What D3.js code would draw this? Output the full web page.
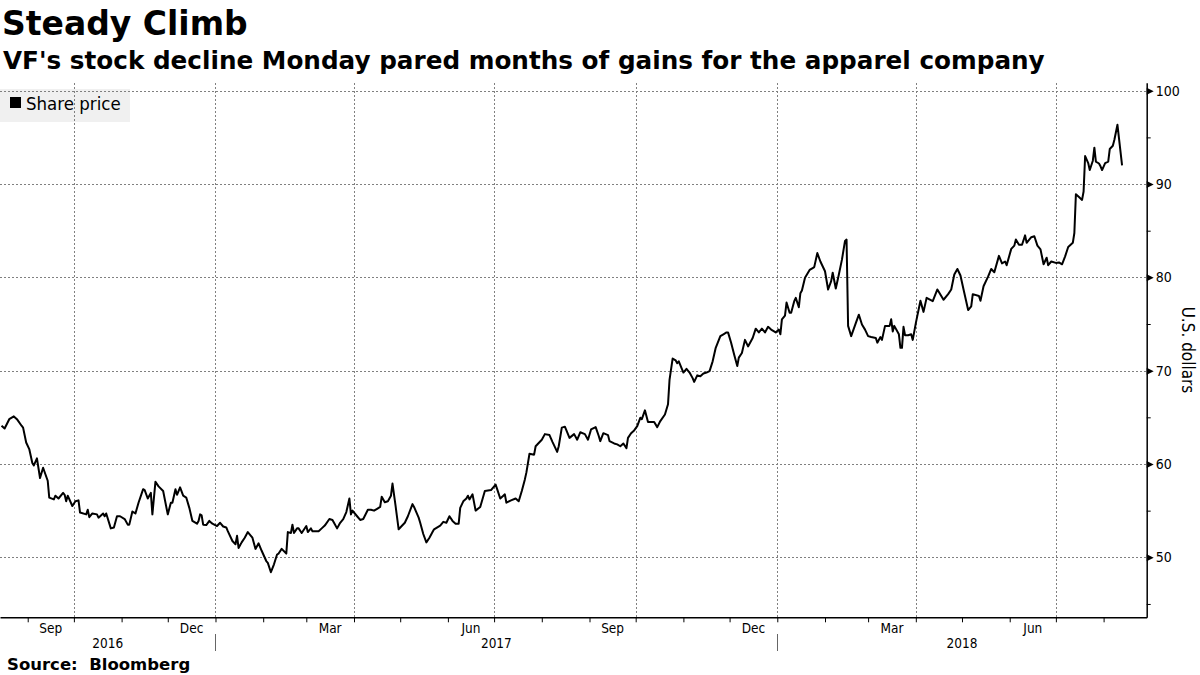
<!DOCTYPE html>
<html><head><meta charset="utf-8">
<script src="https://cdn.jsdelivr.net/npm/d3@7"></script>
<style>body{margin:0;background:#fff;} svg{display:block;}</style>
</head><body>
<svg id="chart" width="1200" height="675"></svg>
<script>
const title = "Steady Climb";
const subtitle = "VF's stock decline Monday pared months of gains for the apparel company";
const sourceText = "Source:  Bloomberg";
const seriesName = "Share price";
const yAxisTitle = "U.S. dollars";
const xDomain = ["2016-08-14", "2018-08-29"];
const yDomain = [43.57, 100.86];
const yTicks = [50, 60, 70, 80, 90, 100];
const yMinorTicks = [45, 55, 65, 75, 85, 95];
const labelMonths = ["Sep", "Dec", "Mar", "Jun"];

const dates = [
"2016-08-15","2016-08-17","2016-08-20","2016-08-23","2016-08-25","2016-08-28","2016-08-29","2016-08-31",
"2016-09-02","2016-09-04","2016-09-05","2016-09-07","2016-09-09","2016-09-11","2016-09-14","2016-09-15",
"2016-09-18","2016-09-19","2016-09-21","2016-09-24","2016-09-25","2016-09-26","2016-09-27","2016-09-30",
"2016-10-02","2016-10-04","2016-10-05","2016-10-09","2016-10-10","2016-10-11","2016-10-13","2016-10-16",
"2016-10-17","2016-10-20","2016-10-21","2016-10-22","2016-10-25","2016-10-27","2016-10-29","2016-10-31",
"2016-11-03","2016-11-05","2016-11-06","2016-11-08","2016-11-10","2016-11-12","2016-11-15","2016-11-16",
"2016-11-18","2016-11-20","2016-11-21","2016-11-23","2016-11-25","2016-11-28",
"2016-12-01","2016-12-03","2016-12-04","2016-12-06","2016-12-07","2016-12-09","2016-12-11","2016-12-13",
"2016-12-15","2016-12-17","2016-12-20","2016-12-21","2016-12-22","2016-12-23","2016-12-24","2016-12-26",
"2016-12-28","2016-12-30",
"2017-01-02","2017-01-04","2017-01-06","2017-01-08","2017-01-09","2017-01-12","2017-01-14","2017-01-15",
"2017-01-16","2017-01-18","2017-01-20","2017-01-22","2017-01-24","2017-01-25","2017-01-27","2017-01-29",
"2017-01-31",
"2017-02-03","2017-02-04","2017-02-06","2017-02-08","2017-02-10","2017-02-11","2017-02-13","2017-02-16",
"2017-02-17","2017-02-19","2017-02-20","2017-02-21","2017-02-23","2017-02-24","2017-02-26",
"2017-03-01","2017-03-02","2017-03-04","2017-03-05","2017-03-09","2017-03-11","2017-03-13","2017-03-16",
"2017-03-18","2017-03-19","2017-03-21","2017-03-23","2017-03-25","2017-03-27","2017-03-29","2017-03-30",
"2017-03-31",
"2017-04-03","2017-04-05","2017-04-07","2017-04-10","2017-04-12","2017-04-14","2017-04-16","2017-04-18",
"2017-04-19","2017-04-21","2017-04-23","2017-04-25","2017-04-26","2017-04-28","2017-04-30",
"2017-05-02","2017-05-04","2017-05-06","2017-05-09","2017-05-10","2017-05-13","2017-05-14","2017-05-16",
"2017-05-18","2017-05-20","2017-05-22","2017-05-23","2017-05-27","2017-05-29","2017-05-31",
"2017-06-02","2017-06-04","2017-06-06","2017-06-08","2017-06-09","2017-06-11","2017-06-13","2017-06-14",
"2017-06-15","2017-06-17","2017-06-19","2017-06-22","2017-06-25","2017-06-29",
"2017-07-02","2017-07-03","2017-07-05","2017-07-07","2017-07-08","2017-07-09","2017-07-12","2017-07-15",
"2017-07-17","2017-07-19","2017-07-21","2017-07-22","2017-07-24","2017-07-27","2017-07-28",
"2017-08-01","2017-08-03","2017-08-06","2017-08-08","2017-08-11","2017-08-12","2017-08-14","2017-08-16",
"2017-08-19","2017-08-22","2017-08-24","2017-08-26","2017-08-29","2017-08-31",
"2017-09-02","2017-09-05","2017-09-07","2017-09-08","2017-09-10","2017-09-13","2017-09-14","2017-09-17",
"2017-09-19","2017-09-21","2017-09-23","2017-09-25","2017-09-26","2017-09-28","2017-09-30",
"2017-10-02","2017-10-04","2017-10-05","2017-10-07","2017-10-09","2017-10-11","2017-10-13","2017-10-15",
"2017-10-17","2017-10-20","2017-10-22","2017-10-23","2017-10-25","2017-10-27","2017-10-28","2017-10-29",
"2017-11-01","2017-11-03","2017-11-05","2017-11-07","2017-11-08","2017-11-10","2017-11-12","2017-11-14",
"2017-11-16","2017-11-18","2017-11-20","2017-11-22","2017-11-25","2017-11-27","2017-11-29","2017-11-30",
"2017-12-02","2017-12-04","2017-12-06","2017-12-07","2017-12-09","2017-12-11","2017-12-13","2017-12-16",
"2017-12-18","2017-12-20","2017-12-22","2017-12-24","2017-12-26","2017-12-28","2017-12-31",
"2018-01-02","2018-01-03","2018-01-04","2018-01-06","2018-01-07","2018-01-09","2018-01-10","2018-01-12",
"2018-01-13","2018-01-15","2018-01-16","2018-01-17","2018-01-19","2018-01-22","2018-01-24","2018-01-25",
"2018-01-27","2018-01-29",
"2018-02-01","2018-02-03","2018-02-05","2018-02-06","2018-02-08","2018-02-10","2018-02-12","2018-02-14",
"2018-02-15","2018-02-16","2018-02-18","2018-02-21","2018-02-23","2018-02-25","2018-02-27",
"2018-03-01","2018-03-03","2018-03-06","2018-03-07","2018-03-09","2018-03-10","2018-03-12","2018-03-15",
"2018-03-16","2018-03-17","2018-03-18","2018-03-21","2018-03-22","2018-03-23","2018-03-24","2018-03-25",
"2018-03-27","2018-03-29","2018-03-30",
"2018-04-01","2018-04-04","2018-04-06","2018-04-08","2018-04-12","2018-04-15","2018-04-19","2018-04-22",
"2018-04-24","2018-04-26","2018-04-28","2018-04-30",
"2018-05-02","2018-05-05","2018-05-07","2018-05-08","2018-05-12","2018-05-13","2018-05-15","2018-05-18",
"2018-05-20","2018-05-22","2018-05-25","2018-05-27","2018-05-29","2018-05-30",
"2018-06-02","2018-06-04","2018-06-05","2018-06-07","2018-06-09","2018-06-11","2018-06-12","2018-06-15",
"2018-06-17","2018-06-19","2018-06-21","2018-06-23","2018-06-25","2018-06-26","2018-06-28",
"2018-07-01","2018-07-03","2018-07-05","2018-07-07","2018-07-09","2018-07-12","2018-07-13","2018-07-14",
"2018-07-16","2018-07-18","2018-07-19","2018-07-20","2018-07-22","2018-07-23","2018-07-25","2018-07-26",
"2018-07-27","2018-07-29","2018-07-30","2018-07-31",
"2018-08-02","2018-08-04","2018-08-05","2018-08-07","2018-08-08","2018-08-10","2018-08-13"
];

const prices = [
64.1,63.8,64.8,65.1,64.8,64.1,63.9,62.3,
61.6,60.1,59.85,60.6,58.5,59.6,58.2,56.4,
56.2,56.6,56.3,56.9,56.7,56.0,56.6,55.5,
56.0,56.1,54.8,54.6,55.1,54.3,54.7,54.6,
54.25,54.7,54.4,54.7,53.1,53.2,54.4,54.4,
54.1,53.5,53.5,54.9,54.7,55.85,57.3,57.2,
56.3,56.9,54.6,58.1,57.6,57.1,
54.6,55.85,55.85,57.3,56.7,57.5,56.6,56.4,
55.3,53.9,53.6,53.9,54.6,54.5,53.5,53.45,
53.9,53.6,
53.35,53.7,53.3,53.2,52.8,51.75,51.4,52.3,
51.0,51.6,52.1,52.7,52.3,52.1,50.9,51.5,
50.7,
49.6,49.4,48.4,49.25,50.3,50.4,50.9,50.4,
52.7,52.6,53.5,52.6,53.1,53.1,52.6,
53.35,52.7,53.1,52.8,52.8,53.1,53.4,54.1,
54.0,53.7,53.1,53.7,54.1,54.85,56.3,54.6,
55.0,
54.4,54.0,54.1,55.1,55.1,55.0,55.2,55.4,
56.5,55.9,56.0,56.6,57.9,55.5,53.0,
53.35,53.7,54.4,55.7,55.4,54.25,53.7,52.5,
51.6,52.1,52.7,53.0,53.4,53.8,53.7,
54.4,53.9,53.6,53.6,55.3,56.0,56.3,56.6,
56.2,56.75,55.0,55.4,57.1,57.2,
57.8,57.3,56.3,56.6,56.75,55.85,56.1,56.3,
56.0,57.1,58.35,59.1,61.1,61.0,61.9,
62.6,63.2,63.1,62.35,61.3,61.9,63.9,64.0,
62.8,63.2,62.6,63.4,63.2,62.6,
63.7,63.95,63.0,62.45,63.3,63.1,62.45,62.2,
62.1,61.9,62.2,61.7,62.8,63.3,63.6,
64.05,64.95,64.8,65.75,64.5,64.5,64.5,63.95,
64.6,65.3,66.4,69.05,71.3,71.1,70.8,71.0,
69.8,70.2,69.8,69.2,68.8,69.5,69.4,69.7,
69.8,69.95,71.0,72.45,73.7,73.9,74.1,74.1,
73.0,71.7,70.5,71.4,71.9,73.3,72.6,73.5,
74.5,74.1,74.5,74.1,74.7,74.4,74.1,
74.4,73.9,75.5,75.9,77.3,76.2,76.2,77.45,
77.8,76.8,78.3,78.6,79.95,80.8,81.0,81.1,
82.6,81.7,
80.65,78.7,79.6,80.5,78.8,80.3,81.9,83.9,
84.05,74.8,73.7,75.1,76.0,74.95,74.4,
73.7,73.6,73.5,73.0,73.6,73.3,74.8,74.8,
75.5,74.2,74.8,73.9,72.45,72.45,74.7,73.8,
73.8,73.9,73.3,
75.1,77.5,76.3,77.8,77.45,78.7,77.6,78.2,
78.7,80.3,80.9,80.2,
78.7,76.5,76.9,78.2,78.0,77.5,79.05,80.1,
80.9,80.55,82.3,81.5,81.7,81.3,
83.05,83.4,84.05,83.5,83.5,84.5,83.7,84.3,
84.4,83.4,83.0,81.4,82.1,81.3,81.7,
81.55,81.6,81.4,82.25,83.25,83.7,84.75,88.9,
88.6,88.3,89.2,93.0,92.25,91.5,92.5,93.9,
92.4,92.2,91.9,91.5,
92.25,92.4,93.75,94.1,94.75,96.35,92.0
];

const parse = d3.utcParse("%Y-%m-%d");
const data = dates.map((d, i) => ({ date: parse(d), value: prices[i] }));

const svg = d3.select("#chart");
const plot = { left: 0, right: 1146.7, top: 82.7, bottom: 617.3 };

const x = d3.scaleUtc().domain(xDomain.map(parse)).range([plot.left, plot.right]);
const y = d3.scaleLinear().domain(yDomain).range([plot.bottom, plot.top]);

const condensed = "'DejaVu Sans Condensed', 'DejaVu Sans', sans-serif";
const boldFont = "'DejaVu Sans', sans-serif";

// Title & subtitle
svg.append("text").attr("x", 2).attr("y", 35)
  .attr("font-family", boldFont).attr("font-weight", "bold").attr("font-size", 33)
  .attr("fill", "#000").text(title);
svg.append("text").attr("x", 3).attr("y", 69)
  .attr("font-family", boldFont).attr("font-weight", "bold").attr("font-size", 24.7)
  .attr("fill", "#000").text(subtitle);

// Legend box
const legend = svg.append("g");
legend.append("rect").attr("x", 0).attr("y", 89).attr("width", 130).attr("height", 33)
  .attr("fill", "#f0f0f0");
legend.append("rect").attr("x", 10).attr("y", 97).attr("width", 11).attr("height", 11)
  .attr("fill", "#000");
legend.append("text").attr("x", 26).attr("y", 109.5)
  .attr("font-family", condensed).attr("font-size", 18.5).attr("fill", "#000").text(seriesName);

// Gridlines
const grid = svg.append("g").attr("stroke", "#808080").attr("stroke-width", 1)
  .attr("stroke-dasharray", "2,2").attr("shape-rendering", "crispEdges");
grid.selectAll("line.h").data(yTicks).join("line").attr("class", "h")
  .attr("x1", plot.left).attr("x2", plot.right)
  .attr("y1", d => Math.round(y(d)) + 0.5).attr("y2", d => Math.round(y(d)) + 0.5);
const quarters = d3.utcMonth.every(3).range(x.domain()[0], x.domain()[1]);
grid.selectAll("line.v").data(quarters).join("line").attr("class", "v")
  .attr("x1", d => Math.round(x(d)) + 0.5).attr("x2", d => Math.round(x(d)) + 0.5)
  .attr("y1", plot.top).attr("y2", plot.bottom);

// Bottom axis (month ticks)
const months = d3.utcMonth.range(x.domain()[0], x.domain()[1]);
const xAxis = d3.axisBottom(x).tickValues(months).tickSize(5).tickSizeOuter(0).tickFormat("");
const gx = svg.append("g").attr("transform", `translate(0,${plot.bottom})`).call(xAxis);
gx.select(".domain").attr("stroke", "#000").attr("stroke-width", 1.5);
gx.selectAll(".tick line").attr("stroke", "#000").attr("stroke-width", 1);

// Month labels at mid-month
const fmtMonth = d3.utcFormat("%b");
const labelled = months.filter(m => labelMonths.includes(fmtMonth(m)));
svg.append("g").selectAll("text").data(labelled).join("text")
  .attr("x", d => (x(d) + x(d3.utcMonth.offset(d, 1))) / 2)
  .attr("y", 633)
  .attr("text-anchor", "middle")
  .attr("font-family", condensed).attr("font-size", 13.5).attr("fill", "#000")
  .text(d => fmtMonth(d));

// Year separators and labels
const years = d3.utcYear.range(d3.utcYear.floor(x.domain()[0]), x.domain()[1]);
const yearStarts = years.filter(d => d > x.domain()[0]);
svg.append("g").selectAll("line").data(yearStarts).join("line")
  .attr("x1", d => Math.round(x(d)) + 0.5).attr("x2", d => Math.round(x(d)) + 0.5)
  .attr("y1", 634).attr("y2", 651)
  .attr("stroke", "#666").attr("stroke-width", 1);
svg.append("g").selectAll("text").data(years).join("text")
  .attr("x", d => {
    const a = Math.max(x(d), plot.left);
    const b = Math.min(x(d3.utcYear.offset(d, 1)), plot.right);
    return (a + b) / 2;
  })
  .attr("y", 648)
  .attr("text-anchor", "middle")
  .attr("font-family", condensed).attr("font-size", 13.5).attr("fill", "#000")
  .text(d => d3.utcFormat("%Y")(d));

// Right axis
const yAxisMinor = d3.axisRight(y).tickValues(yMinorTicks).tickSize(4).tickSizeOuter(0).tickFormat("");
const gyMinor = svg.append("g").attr("transform", `translate(${plot.right},0)`).call(yAxisMinor);
gyMinor.select(".domain").attr("stroke", "#000").attr("stroke-width", 1.5);
gyMinor.selectAll(".tick line").attr("stroke", "#000");

const yAxisMajor = d3.axisRight(y).tickValues(yTicks).tickSize(0).tickPadding(9).tickFormat(d3.format("d"));
const gy = svg.append("g").attr("transform", `translate(${plot.right},0)`).call(yAxisMajor);
gy.select(".domain").remove();
gy.selectAll(".tick text").attr("font-family", condensed).attr("font-size", 14).attr("fill", "#000");
gy.selectAll(".tick").append("path")
  .attr("d", "M0,-3.5L7,0L0,3.5Z").attr("fill", "#000");

// Axis title
svg.append("text")
  .attr("transform", `translate(1182,${(plot.top + plot.bottom) / 2}) rotate(90)`)
  .attr("text-anchor", "middle")
  .attr("font-family", condensed).attr("font-size", 17).attr("fill", "#000")
  .text(yAxisTitle);

// Line
const line = d3.line().x(d => x(d.date)).y(d => y(d.value));
svg.append("path").datum(data)
  .attr("d", line).attr("fill", "none").attr("stroke", "#000")
  .attr("stroke-width", 2).attr("stroke-linejoin", "round");

// Source
svg.append("text").attr("x", 7).attr("y", 670)
  .attr("font-family", boldFont).attr("font-weight", "bold").attr("font-size", 16.5)
  .attr("fill", "#000").style("white-space", "pre").text(sourceText);
</script>
</body></html>
